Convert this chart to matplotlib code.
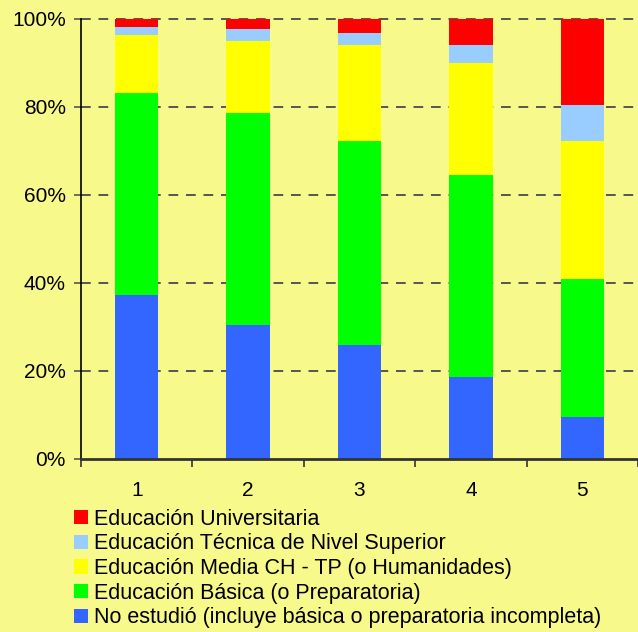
import numpy as np
import matplotlib
matplotlib.use('Agg')
import matplotlib.pyplot as plt
from matplotlib.patches import Patch

plt.rcParams['font.family'] = ['Liberation Sans', 'DejaVu Sans']

# data (percent of each bar)
groups = ['1', '2', '3', '4', '5']
no_estudio = [37.2, 30.4, 25.8, 18.6, 9.5]
basica = [45.9, 48.2, 46.4, 45.9, 31.3]
media = [13.2, 16.3, 21.8, 25.4, 31.4]
tecnica = [1.8, 2.8, 2.8, 4.1, 8.2]
universitaria = [1.9, 2.3, 3.2, 6.0, 19.6]

series = [no_estudio, basica, media, tecnica, universitaria]
labels = ['No estudió (incluye básica o preparatoria incompleta)',
          'Educación Básica (o Preparatoria)',
          'Educación Media CH - TP (o Humanidades)',
          'Educación Técnica de Nivel Superior',
          'Educación Universitaria']
colors = ['#3366FF', '#00FF00', '#FFFF00', '#99CCFF', '#FF0000']
bg = '#F7F98A'

fig = plt.figure(figsize=(6.38, 6.32), dpi=100, facecolor=bg)
ax = fig.add_axes([0.127, 0.274, 0.873, 0.696])
ax.set_facecolor(bg)

x = np.arange(len(groups))
bottom = np.zeros(len(groups))
for vals, col in zip(series, colors):
    ax.bar(x, vals, width=0.39, bottom=bottom, color=col, zorder=2)
    bottom += np.array(vals)

ax.set_ylim(0, 100)
ax.set_xlim(-0.5, 4.49)

# dashed grid
for yv in [20, 40, 60, 80, 100]:
    ax.axhline(yv, color='#555555', linestyle=(0, (5, 4)), linewidth=1.4,
               zorder=1, clip_on=False)

ax.set_yticks([0, 20, 40, 60, 80, 100])
ax.set_yticklabels(['0%', '20%', '40%', '60%', '80%', '100%'], fontsize=15)
ax.tick_params(axis='y', length=5, width=1.2, color='#555555', pad=6)

ax.set_xticks(x)
ax.set_xticklabels(groups, fontsize=15)
ax.tick_params(axis='x', which='major', length=0, pad=16)
ax.set_xticks(np.arange(-0.5, 4.6, 1.0), minor=True)
ax.tick_params(axis='x', which='minor', length=6, width=1.2, color='#333333')

ax.spines['top'].set_visible(False)
ax.spines['right'].set_visible(False)
ax.spines['left'].set_color('black')
ax.spines['left'].set_linewidth(1.2)
ax.spines['bottom'].set_color('#333333')
ax.spines['bottom'].set_linewidth(2)
ax.spines['bottom'].set_zorder(3)

handles = [Patch(facecolor=c, label=l) for c, l in zip(colors, labels)]
fig.legend(handles[::-1], labels[::-1], loc='upper left',
           bbox_to_anchor=(0.116, 0.195), frameon=False, fontsize=15.5,
           handlelength=0.65, handleheight=0.65, handletextpad=0.3,
           labelspacing=0.17, borderpad=0, borderaxespad=0)

plt.savefig('out.png', dpi=100, facecolor=bg)
